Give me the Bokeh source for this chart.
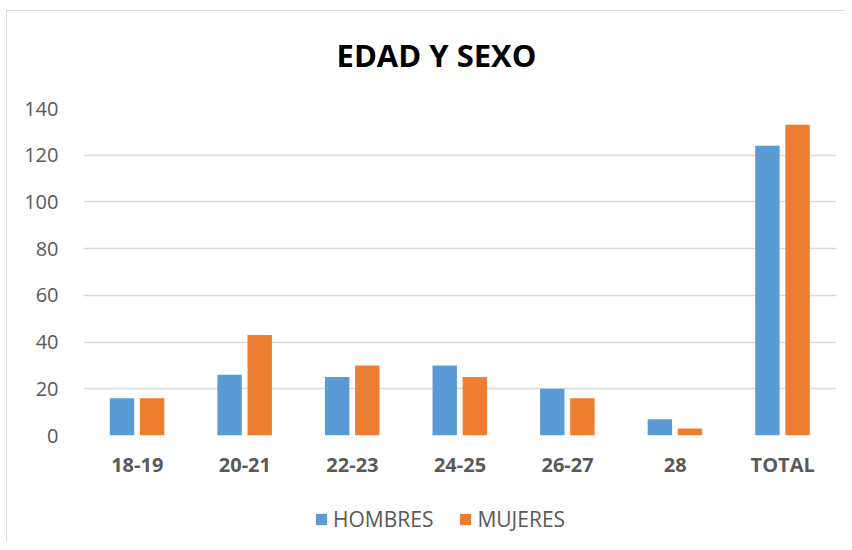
from bokeh.plotting import figure
from bokeh.models import FactorRange, Label, Legend, LegendItem, ColumnDataSource, SingleIntervalTicker
from bokeh.layouts import column
from bokeh.transform import dodge
from bokeh.embed import file_html
from bokeh.resources import INLINE

categories = ["18-19", "20-21", "22-23", "24-25", "26-27", "28", "TOTAL"]
hombres = [16, 26, 25, 30, 20, 7, 124]
mujeres = [16, 43, 30, 25, 16, 3, 133]
series_names = ["HOMBRES", "MUJERES"]
title_text = "EDAD Y SEXO"

FONT = "Open Sans"
BLUE = "#5B9BD5"
ORANGE = "#ED7D31"
GRAY_TXT = "#595959"
GRID = "#D9D9D9"

source = ColumnDataSource(data=dict(cat=categories, hombres=hombres, mujeres=mujeres))

# ---- title strip ----
tt = figure(
    width=837, height=75,
    x_range=(0, 1), y_range=(0, 1),
    output_backend="svg", toolbar_location=None,
    x_axis_type=None, y_axis_type=None,
    min_border=0,
)
tt.outline_line_color = None
tt.grid.grid_line_color = None
tt.background_fill_color = "white"
tt.border_fill_color = "white"
tt.add_layout(Label(x=353, y=32, x_units="screen", y_units="screen", text=title_text,
                    text_font=FONT, text_font_size="31px", text_font_style="bold",
                    text_color="black", text_align="center", text_baseline="alphabetic"))

# ---- main chart ----
p = figure(
    width=837, height=409,
    x_range=FactorRange(*categories),
    y_range=(0, 140),
    output_backend="svg",
    toolbar_location=None,
    min_border_left=76, min_border_right=8,
    min_border_top=22, min_border_bottom=60,
)
p.outline_line_color = None
p.background_fill_color = "white"
p.border_fill_color = "white"

p.vbar(x=dodge("cat", -0.142, range=p.x_range), top="hombres", width=0.227,
       source=source, fill_color=BLUE, line_color=None)
p.vbar(x=dodge("cat", 0.138, range=p.x_range), top="mujeres", width=0.227,
       source=source, fill_color=ORANGE, line_color=None)

p.yaxis.ticker = SingleIntervalTicker(interval=20)
p.yaxis.axis_line_color = None
p.yaxis.major_tick_line_color = None
p.yaxis.minor_tick_line_color = None
p.yaxis.major_label_standoff = 19
p.yaxis.major_label_text_font = FONT
p.yaxis.major_label_text_font_size = "20px"
p.yaxis.major_label_text_color = GRAY_TXT

p.xaxis.axis_line_color = None
p.xaxis.major_tick_line_color = None
p.xaxis.minor_tick_line_color = None
p.xaxis.major_label_standoff = 9
p.xaxis.major_label_text_font = FONT
p.xaxis.major_label_text_font_size = "20px"
p.xaxis.major_label_text_font_style = "bold"
p.xaxis.major_label_text_color = GRAY_TXT

p.xgrid.grid_line_color = None
p.ygrid.grid_line_color = GRID
p.ygrid.grid_line_width = 1.3

# ---- legend strip ----
lg = figure(
    width=837, height=47,
    x_range=p.x_range, y_range=(1000, 1001),
    output_backend="svg", toolbar_location=None,
    x_axis_type=None, y_axis_type=None,
    min_border=0,
)
lg.outline_line_color = None
lg.grid.grid_line_color = None
lg.background_fill_color = "white"
lg.border_fill_color = "white"
h = lg.vbar(x="cat", top="hombres", width=0.2, source=source, fill_color=BLUE, line_color=None)
m = lg.vbar(x="cat", top="mujeres", width=0.2, source=source, fill_color=ORANGE, line_color=None)

legend = Legend(items=[LegendItem(label=series_names[0], renderers=[h]),
                       LegendItem(label=series_names[1], renderers=[m])],
                location=(231, 9), orientation="horizontal",
                glyph_width=14, glyph_height=14, label_standoff=5, spacing=25,
                padding=0, margin=0, border_line_color=None, background_fill_alpha=0,
                label_text_font=FONT, label_text_font_size="21px", label_text_color=GRAY_TXT)
lg.add_layout(legend, "center")

layout = column(tt, p, lg, spacing=0, margin=(10, 0, 0, 6))
layout.styles = {"border-left": "1px solid #D9D9D9", "border-top": "1px solid #D9D9D9"}
open("out.html", "w").write(file_html(layout, INLINE))
